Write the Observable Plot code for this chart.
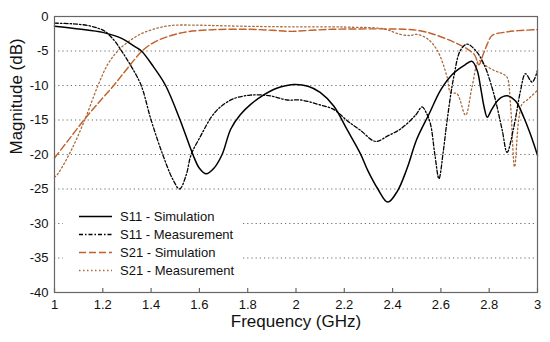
<!DOCTYPE html>
<html>
<head>
<meta charset="utf-8">
<script src="https://cdn.jsdelivr.net/npm/d3@7"></script>
<script src="https://cdn.jsdelivr.net/npm/@observablehq/plot@0.6"></script>
<style>
  html, body { margin: 0; padding: 0; background: #fff; }
  #wrap { position: relative; width: 550px; height: 342px; font-family: "Liberation Sans", Arial, Helvetica, sans-serif; }
  #legend { position: absolute; left: 63px; top: 199px; width: 180px; height: 81px; background: #fff; }
</style>
</head>
<body>
<div id="wrap"><div id="chart"></div><div id="legend"></div></div>
<script>
// ---- data ----
const xTicks = [1, 1.2, 1.4, 1.6, 1.8, 2, 2.2, 2.4, 2.6, 2.8, 3];
const yTicks = [0, -5, -10, -15, -20, -25, -30, -35, -40];
const gridDb = [-5, -10, -15, -20, -25, -30, -35];
const xLabel = "Frequency (GHz)";
const yLabel = "Magnitude (dB)";
const seriesNames = ["S11 - Simulation", "S11 - Measurement", "S21 - Simulation", "S21 - Measurement"];

const s11SimF  = [1.0, 1.1, 1.2, 1.28, 1.33, 1.36, 1.41, 1.46, 1.52, 1.573, 1.60, 1.628, 1.66, 1.694, 1.73, 1.77, 1.81, 1.86, 1.92, 1.99, 2.05, 2.10, 2.157, 2.21, 2.267, 2.297, 2.339, 2.38, 2.42, 2.46, 2.50, 2.55, 2.60, 2.65, 2.70, 2.729, 2.75, 2.764, 2.78, 2.792, 2.81, 2.84, 2.874, 2.91, 2.943, 2.97, 3.0];
const s11SimDb = [-1.4, -1.8, -2.3, -3.2, -4.3, -5.0, -7.3, -10, -15, -20, -22, -22.8, -22, -20, -16.3, -14.2, -12.8, -11.5, -10.4, -9.85, -10.1, -11.0, -13.0, -16.3, -19.9, -22.3, -25, -26.9, -25.3, -22.0, -17.8, -14.2, -10.6, -8.3, -7.0, -6.5, -7.8, -10.2, -13.3, -14.6, -13.5, -12.0, -11.5, -12.3, -14.6, -17.0, -20.1];

const s11MeasF  = [1.0, 1.07, 1.138, 1.18, 1.207, 1.248, 1.276, 1.30, 1.324, 1.359, 1.40, 1.448, 1.49, 1.518, 1.545, 1.566, 1.607, 1.649, 1.687, 1.743, 1.81, 1.87, 1.908, 1.963, 2.019, 2.088, 2.157, 2.212, 2.267, 2.329, 2.38, 2.433, 2.495, 2.522, 2.54, 2.557, 2.575, 2.592, 2.61, 2.626, 2.653, 2.681, 2.709, 2.743, 2.778, 2.819, 2.854, 2.874, 2.902, 2.93, 2.95, 2.978, 3.0];
const s11MeasDb = [-0.97, -1.05, -1.3, -1.7, -2.1, -3.5, -4.9, -6.2, -7.6, -10, -15, -20, -23.6, -25.0, -23.0, -20, -17.2, -14.6, -13.1, -11.9, -11.4, -11.4, -11.6, -12.1, -12.1, -12.7, -13.5, -15.1, -16.5, -18.1, -17.3, -16.3, -14.3, -13.1, -14.0, -15.6, -20, -23.5, -19.5, -15, -8.8, -4.9, -4.0, -4.9, -6.9, -11.2, -16.5, -19.7, -16, -10.7, -8.3, -9.5, -7.8];

const s21SimF  = [1.0, 1.06, 1.122, 1.18, 1.245, 1.30, 1.363, 1.414, 1.483, 1.552, 1.663, 1.80, 1.90, 1.98, 2.06, 2.15, 2.363, 2.45, 2.502, 2.55, 2.585, 2.653, 2.709, 2.74, 2.757, 2.775, 2.792, 2.812, 2.86, 2.92, 3.0];
const s21SimDb = [-20.5, -17.8, -15, -12.6, -10, -7.6, -5.0, -3.7, -2.75, -2.2, -1.9, -1.85, -2.0, -2.15, -2.0, -1.85, -1.8, -1.85, -2.0, -2.35, -2.75, -3.7, -4.7, -5.6, -7.0, -5.5, -4.0, -2.75, -2.3, -2.05, -1.9];

const s21MeasF  = [1.0, 1.014, 1.069, 1.124, 1.18, 1.221, 1.262, 1.304, 1.359, 1.414, 1.483, 1.58, 1.70, 1.85, 2.0, 2.15, 2.226, 2.363, 2.433, 2.474, 2.50, 2.543, 2.585, 2.626, 2.64, 2.667, 2.702, 2.729, 2.757, 2.78, 2.819, 2.854, 2.874, 2.888, 2.905, 2.922, 2.936, 2.957, 3.0];
const s21MeasDb = [-23.3, -22.8, -19.4, -15.1, -10, -6.9, -5.0, -3.7, -2.5, -1.8, -1.3, -1.25, -1.35, -1.45, -1.5, -1.5, -1.55, -1.8, -2.6, -2.75, -2.6, -3.2, -4.9, -8.8, -11.0, -11.2, -14.3, -10.2, -6.4, -7.0, -7.8, -8.3, -8.8, -12.7, -21.8, -15, -12.7, -12.1, -10.7];

// ---- styles ----
const styles = [
  {stroke: "#000", strokeWidth: 1.5, dash: null},
  {stroke: "#000", strokeWidth: 1.3, dash: "4,2,1.5,2"},
  {stroke: "#c0602a", strokeWidth: 1.4, dash: "7,3"},
  {stroke: "#a86a3c", strokeWidth: 1.3, dash: "1.5,2.5"}
];

const toRows = (fs, ds) => fs.map((f, i) => ({f, db: ds[i]}));
const series = [
  toRows(s11SimF, s11SimDb),
  toRows(s11MeasF, s11MeasDb),
  toRows(s21SimF, s21SimDb),
  toRows(s21MeasF, s21MeasDb)
];

const lineMarks = [3, 2, 1, 0].map(i => Plot.line(series[i], {
  x: "f", y: "db", curve: "catmull-rom",
  stroke: styles[i].stroke, strokeWidth: styles[i].strokeWidth,
  strokeDasharray: styles[i].dash
}));

const chart = Plot.plot({
  width: 550, height: 342,
  marginLeft: 54, marginRight: 13, marginTop: 16, marginBottom: 50,
  style: {fontFamily: "'Liberation Sans', Arial, Helvetica, sans-serif", fontSize: "13px", background: "white", color: "#111"},
  x: {domain: [1, 3]},
  y: {domain: [-40, 0]},
  marks: [
    Plot.ruleY(gridDb, {stroke: "#6a6a6a", strokeDasharray: "1.2,3", strokeWidth: 1}),
    ...lineMarks,
    Plot.frame({stroke: "#666", strokeWidth: 1.2}),
    Plot.tickX(xTicks, {x: d => d, insetTop: 272, stroke: "#666", strokeWidth: 1.2}),
    Plot.axisX(xTicks, {tickSize: 0, tickPadding: 7, fontSize: 13, tickFormat: d => String(d), label: null}),
    Plot.axisY(yTicks, {tickSize: 0, tickPadding: 6, fontSize: 13, tickFormat: d => String(d), label: null}),
    Plot.text([xLabel], {frameAnchor: "bottom", dy: 34, fontSize: 17, fill: "#111"}),
    Plot.text([yLabel], {frameAnchor: "left", dx: -38, rotate: -90, fontSize: 17, fill: "#111"})
  ]
});
document.getElementById("chart").appendChild(chart);

// ---- legend (overlay inside plot area) ----
const ns = "http://www.w3.org/2000/svg";
const lsvg = document.createElementNS(ns, "svg");
lsvg.setAttribute("width", 180);
lsvg.setAttribute("height", 81);
const rowY = [17.5, 35.5, 53.5, 71.5];
seriesNames.forEach((name, i) => {
  const ln = document.createElementNS(ns, "line");
  ln.setAttribute("x1", 16); ln.setAttribute("x2", 49);
  ln.setAttribute("y1", rowY[i]); ln.setAttribute("y2", rowY[i]);
  ln.setAttribute("stroke", styles[i].stroke);
  ln.setAttribute("stroke-width", styles[i].strokeWidth);
  if (styles[i].dash) ln.setAttribute("stroke-dasharray", styles[i].dash);
  lsvg.appendChild(ln);
  const tx = document.createElementNS(ns, "text");
  tx.setAttribute("x", 57); tx.setAttribute("y", rowY[i]);
  tx.setAttribute("dy", "0.35em");
  tx.setAttribute("font-size", 13);
  tx.setAttribute("font-family", "'Liberation Sans', Arial, Helvetica, sans-serif");
  tx.setAttribute("fill", "#111");
  tx.textContent = name;
  lsvg.appendChild(tx);
});
document.getElementById("legend").appendChild(lsvg);
</script>
</body>
</html>
